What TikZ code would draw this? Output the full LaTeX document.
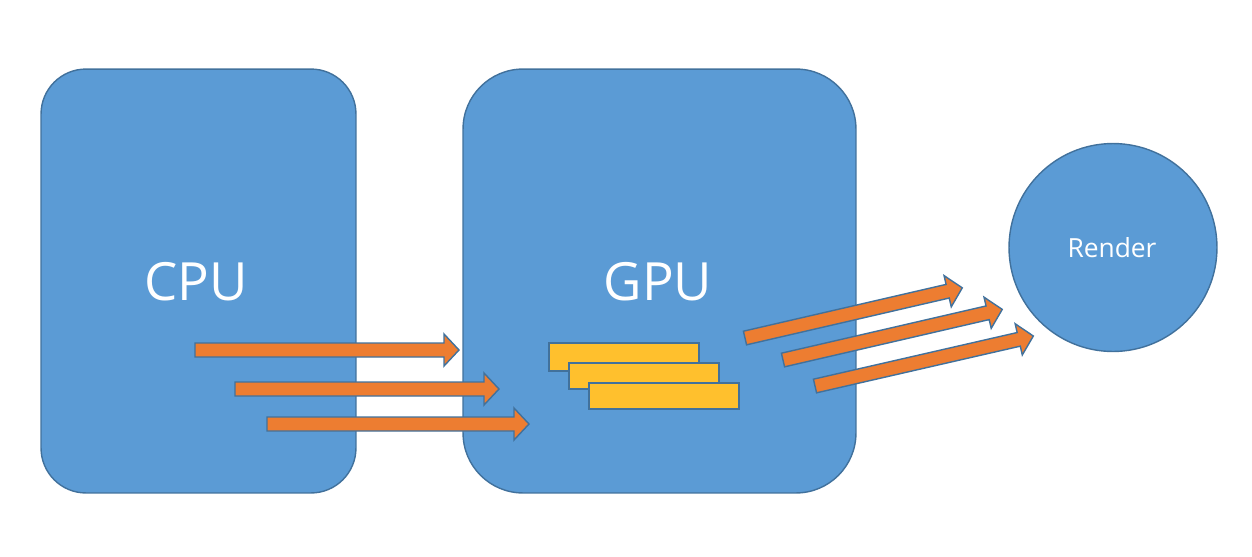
\documentclass[tikz,border=0pt]{standalone}
\usepackage{fontspec}
\setmainfont{Open Sans}
\usepackage{tikz}
\usetikzlibrary{positioning}
\definecolor{boxblue}{HTML}{5B9BD5}
\definecolor{edgeblue}{HTML}{41719C}
\definecolor{arroworange}{HTML}{ED7D31}
\definecolor{chunkyellow}{HTML}{FFC02D}

\begin{document}
\begin{tikzpicture}[
  x=0.02cm, y=-0.02cm,
  unit/.style={draw=edgeblue, fill=boxblue, line width=0.8pt, text=white},
  chunk/.style={draw=edgeblue, fill=chunkyellow, line width=1pt},
  barrow/.style={draw=edgeblue, fill=arroworange, line width=0.8pt, line join=miter},
  pics/flow/.style={code={
    \draw[barrow] (0,-7) -- (#1-15,-7) -- (#1-15,-16) -- (#1,0)
      -- (#1-15,16) -- (#1-15,7) -- (0,7) -- cycle;
  }},
]
\useasboundingbox (0,0) rectangle (1252,556);

% Processing units
\node[unit, rounded corners=0.9cm, minimum width=6.3cm, minimum height=8.48cm] (cpu) at (198.5,281) {};
\node[unit, rounded corners=1.2cm, minimum width=7.86cm, minimum height=8.48cm] (gpu) at (659.5,281) {};
\node[unit, circle, minimum size=4.16cm, inner sep=0pt] (render) at (1113,247.5) {};

\node[text=white, font=\fontsize{30}{30}\selectfont] (cpulbl) at (196,282) {CPU};
\node[text=white, font=\fontsize{30}{30}\selectfont] (gpulbl) at (658,282) {GPU};
\node[text=white, font=\fontsize{15}{15}\selectfont] (renderlbl) at (1112,248) {Render};

% Data handed from CPU to GPU
\pic at (195,350) {flow=264};
\pic at (235,389) {flow=264};
\pic at (267,424) {flow=262};

% Buffers held on the GPU
\node[chunk, minimum width=3cm, minimum height=0.56cm, inner sep=0pt] (buf1) at (624,357) {};
\node[chunk, minimum width=3cm, minimum height=0.52cm, inner sep=0pt] (buf2) at (644,376) {};
\node[chunk, minimum width=3cm, minimum height=0.52cm, inner sep=0pt] (buf3) at (664,396) {};

% Frames sent to render
\pic[rotate=13] at (745,338) {flow=223};
\pic[rotate=13] at (783,360) {flow=225};
\pic[rotate=12.9] at (815,386) {flow=224};

\end{tikzpicture}
\end{document}
